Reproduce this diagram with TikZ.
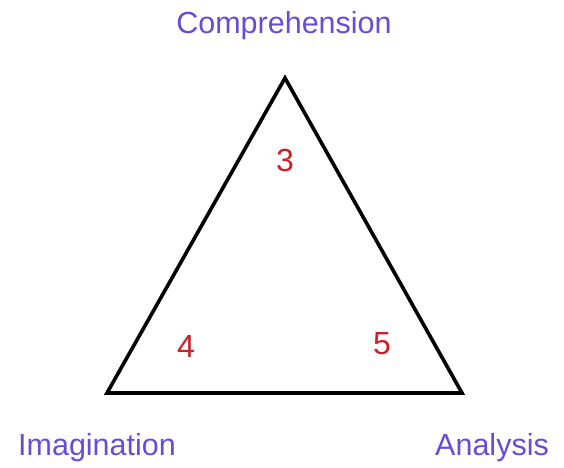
\documentclass[tikz,border=0pt]{standalone}
\usepackage{fontspec}
\setmainfont{Liberation Sans}
\usetikzlibrary{positioning}
\definecolor{labelpurple}{RGB}{104,76,216}
\definecolor{numred}{RGB}{204,32,40}

\begin{document}
\begin{tikzpicture}[
  x=1pt, y=-1pt,
  corner/.style={text=labelpurple, anchor=base, inner sep=0pt, font=\fontsize{30.5}{36}\selectfont},
  score/.style={text=numred, inner sep=0pt, font=\fontsize{32}{38}\selectfont},
  edge/.style={line width=3.6pt, line join=miter}
]
\useasboundingbox (0,0) rectangle (564,467);

% Triangle of the three skills, with a score near each corner.
\coordinate (top) at (285,78);
\coordinate (left) at (107,393);
\coordinate (right) at (462,393);

\node[corner] (comp) at (284,33) {Comprehension};
\node[corner] (imag) at (97,455) {Imagination};
\node[corner] (anal) at (492,455) {Analysis};

\node[score] (s3) at (285,160) {3};
\node[score] (s4) at (186,346) {4};
\node[score] (s5) at (382,344) {5};

\draw[edge] (top) -- (right) -- (left) -- cycle;
\end{tikzpicture}
\end{document}
